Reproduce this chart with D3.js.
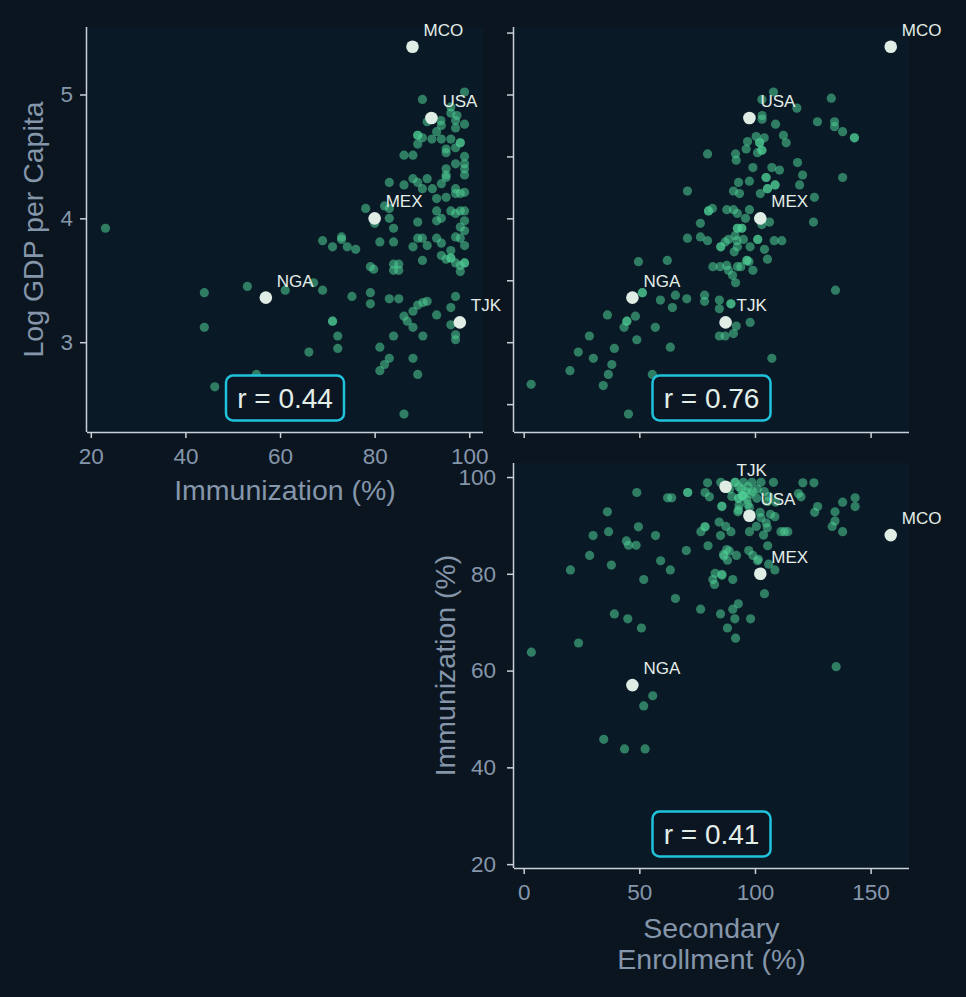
<!DOCTYPE html>
<html>
<head>
<meta charset="utf-8">
<script src="https://cdn.jsdelivr.net/npm/d3@7"></script>
<style>
  html, body { margin: 0; padding: 0; background: #0b151f; }
  svg { display: block; }
</style>
</head>
<body>
<div id="chart"></div>
<script>
// variables
var immLabel = "Immunization (%)";
var gdpLabel = "Log GDP per Capita";
var enrLabel = ["Secondary", "Enrollment (%)"];

// labelled countries [code, immunization, secondary enrollment, log gdp]
var hiCodes = ["MCO", "USA", "MEX", "NGA", "TJK"];
var hiImm = [88, 92, 80, 57, 98];
var hiEnr = [158.7, 97.6, 102.3, 47, 87.3];
var hiGdp = [5.385, 4.81, 4.0, 3.36, 3.16];

// correlation per panel: imm-gdp, enr-gdp, enr-imm
var rValues = [0.44, 0.76, 0.41];

// tick values
var immTicks = [20, 40, 60, 80, 100];
var gdpTicks = [3, 4, 5];
var gdpTicksMinor = [2.5, 3, 3.5, 4, 4.5, 5, 5.5];
var enrTicks = [0, 50, 100, 150];
var immTicksY = [20, 40, 60, 80, 100];

// panel 1: immunization (x) vs log gdp (y)
var immGdp = [
  [23.1,3.92],[44.0,3.40],[44.0,3.12],[53.1,3.45],[61.1,3.42],[67.1,3.48],[46.2,2.64],[55,2.74],[66.1,2.92],
  [69,3.82],[69,3.42],[71.1,3.77],[71.1,3.17],[71.1,3.17],[72.2,3.05],[72.2,2.95],[73,3.85],[73,3.83],
  [74.2,3.77],[76,3.75],[75.2,3.37],[78.1,4.08],[79.1,3.61],[79.8,3.59],[79.1,3.40],[79.1,3.31],[80,3.96],
  [81.1,3.81],[81.1,2.96],[81.1,2.77],[82.1,2.82],[83.1,2.87],[83.1,3.35],[85.1,3.35],[84,3.05],[86.2,2.42],
  [88.1,2.87],[89.1,2.74],[90.2,3.05],[88.1,3.12],[86.2,3.21],[86.9,3.17],[88.1,3.25],[89.1,3.30],[90.2,3.32],
  [91.1,3.33],[93.1,3.22],[96.1,3.28],[97.1,3.37],[96.1,3.14],[97.1,3.06],[97.1,3.02],[84,3.63],[85.1,3.63],
  [84,3.58],[85.1,3.58],[84,3.81],[84,3.92],[83.1,4.00],[83.1,4.08],[82.1,4.10],[83.1,4.29],[86.2,4.27],
  [88.1,4.32],[89.1,4.29],[91.1,4.32],[90.1,4.24],[92.2,4.24],[94.1,4.28],[95.1,4.33],[89.1,3.97],[89.1,3.84],
  [90.1,3.84],[88.1,3.77],[91.1,3.78],[90.1,3.66],[93.1,3.84],[94.1,3.80],[93.1,4.06],[93.1,3.98],[94.1,4.0],
  [93.1,4.16],[95.1,4.17],[96.1,4.06],[97.1,4.24],[97.1,4.04],[98.1,4.06],[99,4.06],[99,3.98],[99,3.90],
  [98.1,3.93],[97.1,3.85],[98.1,3.84],[99,3.78],[94.1,3.70],[95.1,3.67],[96.1,3.74],[96.1,3.68],[96.1,3.68],
  [97.1,3.64],[99,3.64],[99,3.64],[98.1,3.62],[98.1,3.57],[97.1,4.2],[98.1,4.2],[99,4.21],[99,4.35],
  [99,4.40],[99,4.44],[99,4.50],[98.1,4.61],[98.1,4.61],[97.1,4.57],[97.1,4.44],[95.1,4.56],[95.1,4.53],
  [96.1,4.64],[94.1,4.64],[92.1,4.64],[90.1,4.65],[89.1,4.67],[89.1,4.67],[89.1,4.6],[88.1,4.51],[86.2,4.51],
  [97.1,4.73],[97.1,4.79],[99,4.76],[93.1,4.70],[94.1,4.75],[90.1,4.96],[96.1,4.85],[99,5.02],[95.1,4.40],
  [95.1,4.35],[97.4,4.83],[91.1,4.78],[94,4.79],[96.1,4.90]
];

// panel 2: secondary enrollment (x) vs log gdp (y)
var enrGdp = [
  [3.2,2.66],[20.0,2.77],[23.6,2.92],[28.4,3.05],[30.1,2.87],[34.4,2.65],[36.6,2.74],[38.1,2.82],[36.2,3.22],
  [39.2,2.95],[43.4,3.12],[44.6,3.17],[44.6,3.17],[45.3,2.42],[48.3,3.21],[48.9,3.02],[49.6,3.65],[51.3,3.40],
  [51.3,3.40],[55.6,2.74],[56.9,3.12],[59.1,3.34],[62.1,3.66],[63.4,2.96],[64.3,3.28],[65.6,3.38],[70.5,3.35],
  [70.8,4.22],[70.8,3.84],[76.4,3.96],[76.4,3.85],[78.2,3.38],[78.2,3.33],[79.5,4.52],[79.5,3.82],[79.9,4.06],
  [79.9,4.06],[81.6,4.08],[81.8,3.61],[84.6,3.34],[84.6,3.27],[84.6,3.05],[87.1,3.05],[90.7,3.07],[91.9,3.13],
  [89.6,3.31],[89.6,3.31],[84.9,3.61],[87.8,3.62],[88.5,3.58],[90.3,3.54],[91.6,3.48],[92.4,3.61],[93.9,3.61],
  [96.5,3.66],[96.5,3.66],[97.4,3.65],[99.1,3.58],[85.2,3.77],[85.2,3.77],[87.1,3.81],[88.5,3.83],[92.2,3.82],
  [92.4,3.77],[91,3.73],[95,3.83],[97.9,3.77],[101.2,3.83],[101.2,3.83],[104.1,3.75],[105.4,3.67],[108.3,3.82],
  [111.6,3.82],[87.8,4.07],[90.7,4.07],[92.4,4.04],[95.9,4.0],[97.6,4.07],[92.4,3.92],[92.4,3.92],[94.3,3.92],
  [94.3,3.92],[91.4,3.86],[103,3.95],[106.3,3.97],[90.7,4.22],[92.9,4.29],[93.3,4.20],[97.6,4.30],[102.3,4.20],
  [104.8,4.33],[104.8,4.33],[105.4,4.24],[105.4,4.24],[108.7,4.27],[108.7,4.27],[107.3,4.41],[110.6,4.39],
  [99.1,4.41],[118.4,4.45],[120.6,4.35],[119.3,4.27],[125.7,4.17],[125.3,3.97],[137.9,4.33],[134.8,3.42],
  [107.3,2.87],[97.9,3.16],[91.6,4.52],[91.9,4.47],[96.2,4.56],[96.8,4.62],[100.5,4.66],[102,4.61],[102,4.61],
  [103,4.55],[103,4.55],[104,4.65],[101.1,4.53],[103.1,4.83],[103.1,4.80],[108.9,4.76],[112.3,4.67],[113.5,4.61],
  [108,5.02],[118.1,4.89],[127,4.78],[133,4.97],[134.4,4.78],[134.4,4.74],[137.9,4.70],[143,4.65],[143,4.65],
  [103,4.96]
];

// panel 3: secondary enrollment (x) vs immunization (y)
var enrImm = [
  [3.3,63.8],[20.2,80.8],[23.7,65.7],[28.5,83.8],[30.0,87.9],[34.6,45.8],[36.2,92.8],[36.7,88.7],[37.9,81.8],
  [39.2,71.7],[43.6,43.8],[44.4,86.8],[45.3,85.9],[45,70.7],[48.6,85.9],[48.9,96.8],[49.6,89.7],[50.9,68.8],
  [51.9,78.8],[51.9,52.7],[52.5,43.8],[55.8,54.8],[57,87.9],[59.2,82.7],[62.2,95.7],[64,95.7],[63.4,80.8],
  [65.6,74.9],[70.3,84.8],[70.9,96.8],[70.9,96.8],[76.5,72.7],[76.6,88.7],[78.4,89.7],[78.4,89.7],[78.4,96.8],
  [79.5,98.8],[79.7,85.8],[80.3,95.9],[81.8,78.8],[82.5,77.8],[84.5,90.7],[85.1,87.9],[85.1,71.7],[85.7,93.9],
  [85.7,79.7],[86.6,83.7],[87.4,89.8],[88.1,82.8],[88.1,68.8],[88.9,84.7],[89.6,88.7],[90.4,78.8],[90.4,72.7],
  [91.3,70.7],[91.6,66.7],[92,83.8],[92.6,92.8],[92.8,73.8],[93.1,94.1],[94.6,96.2],[94.6,96.2],[96.9,94.4],
  [97.6,88.7],[97.3,84.8],[98.1,70.7],[99.1,83.8],[100.6,89.8],[101.1,82.7],[102.2,92.7],[103.7,88.0],[104.1,75.9],
  [104.9,90.5],[105.3,89.5],[105.5,85.8],[105.9,82.0],[106.7,92.3],[108.6,91.8],[108.6,80.8],[111.2,88.7],
  [112.7,88.7],[114.2,88.7],[109,94.8],[118.8,96.6],[120.7,98.8],[125.5,98.8],[127.1,93.9],[125.8,92.7],
  [133.4,89.8],[134.6,90.9],[134.6,92.8],[137.9,94.8],[137.9,88.7],[143.3,95.7],[143.3,93.9],[135.1,60.8],
  [85.2,98.9],[91.4,98.9],[91.4,98.9],[95.0,98.9],[98.7,98.9],[102.6,98.9],[108,98.9],[85.7,94],[92.9,95.6],
  [92.9,95.6],[96.5,95.3],[100.8,95.6],[105.4,94.9],[92.9,93.2],[97.6,93.7],[102.6,91.6],[87.8,85.0],[86.4,84.0],
  [101.5,83],[82.8,80.1],[85.7,79.9],[119.9,95.9],[93,98],[94,97.5],[96,97],[97,98],[99,97],[101,97.5],
  [104,97],[106,96],[95,96],[98,96.5],[89,97.5],[90,96]
];

var W = 966, H = 997;
var font = "'Liberation Sans', Arial, Helvetica, sans-serif";
var tickColor = "#c9d0d9", labelColor = "#8596ab";

var svg = d3.select("#chart").append("svg")
    .attr("width", W)
    .attr("height", H)
    .style("background", "#0b151f");

var immDomain = [19.2, 102.9];
var gdpDomain = [2.275, 5.545];
var enrDomain = [-4.2, 166.6];

var panels = [
    {x0: 87, y0: 27, w: 396, h: 405, data: immGdp, hx: hiImm, hy: hiGdp,
     xd: immDomain, yd: gdpDomain, xt: immTicks, yt: gdpTicks, xLab: true, yLab: true,
     xTitle: [immLabel], yTitle: gdpLabel, r: rValues[0], ypad: 7},
    {x0: 514, y0: 27, w: 395, h: 405, data: enrGdp, hx: hiEnr, hy: hiGdp,
     xd: enrDomain, yd: gdpDomain, xt: enrTicks, yt: gdpTicksMinor, xLab: false, yLab: false,
     xTitle: null, yTitle: null, r: rValues[1], ypad: 7},
    {x0: 514, y0: 463, w: 395, h: 405, data: enrImm, hx: hiEnr, hy: hiImm,
     xd: enrDomain, yd: immDomain, xt: enrTicks, yt: immTicksY, xLab: true, yLab: true,
     xTitle: enrLabel, yTitle: immLabel, r: rValues[2], ypad: 11}
];

panels.forEach(function(p) {
    var g = svg.append("g")
        .attr("transform", "translate(" + p.x0 + "," + p.y0 + ")");

    var x = d3.scaleLinear().domain(p.xd).range([0, p.w]);
    var y = d3.scaleLinear().domain(p.yd).range([p.h, 0]);

    g.append("rect")
        .attr("width", p.w)
        .attr("height", p.h)
        .attr("fill", "#0a1926");

    // dots
    g.selectAll("circle.dot")
        .data(p.data)
        .enter()
        .append("circle")
            .attr("class", "dot")
            .attr("cx", function(d) { return x(d[0]); })
            .attr("cy", function(d) { return y(d[1]); })
            .attr("r", 4.6)
            .style("fill", "#4fcf95")
            .style("fill-opacity", 0.55);

    // highlighted countries
    var hi = hiCodes.map(function(c, i) { return {code: c, x: p.hx[i], y: p.hy[i]}; });
    g.selectAll("circle.hi")
        .data(hi)
        .enter()
        .append("circle")
            .attr("class", "hi")
            .attr("cx", function(d) { return x(d.x); })
            .attr("cy", function(d) { return y(d.y); })
            .attr("r", 6.3)
            .style("fill", "#dfede5");
    g.selectAll("text.hi")
        .data(hi)
        .enter()
        .append("text")
            .attr("class", "hi")
            .attr("x", function(d) { return x(d.x) + 11; })
            .attr("y", function(d) { return y(d.y) - 11; })
            .style("font-family", font)
            .style("font-size", "17px")
            .style("fill", "#e4eee8")
            .text(function(d) { return d.code; });

    // axes
    var xAxis = g.append("g")
        .attr("transform", "translate(0," + p.h + ")")
        .call(d3.axisBottom(x).tickValues(p.xt).tickSize(6).tickPadding(10)
            .tickFormat(p.xLab ? d3.format("d") : ""));
    var yAxis = g.append("g")
        .call(d3.axisLeft(y).tickValues(p.yt).tickSize(7).tickPadding(p.ypad)
            .tickFormat(p.yLab ? d3.format("d") : ""));
    [xAxis, yAxis].forEach(function(a) {
        a.select(".domain").attr("stroke", tickColor).attr("stroke-width", 1.5);
        a.selectAll(".tick line").attr("stroke", tickColor).attr("stroke-width", 1.5);
        a.selectAll(".tick text")
            .style("font-family", font)
            .style("font-size", "22.5px")
            .attr("fill", labelColor);
    });
    // spines should span the whole panel (no outer tick stubs)
    xAxis.select(".domain").attr("d", "M0,0.5H" + p.w);
    yAxis.select(".domain").attr("d", "M-0.5,0V" + p.h);

    if (p.xTitle) {
        p.xTitle.forEach(function(t, i) {
            g.append("text")
                .attr("x", p.w / 2)
                .attr("y", p.h + 68 + i * 31 + (p.xTitle.length > 1 ? 2 : 0))
                .attr("text-anchor", "middle")
                .style("font-family", font)
                .style("font-size", "28.5px")
                .style("fill", labelColor)
                .text(t);
        });
    }
    if (p.yTitle) {
        g.append("text")
            .attr("transform", "translate(" + (p.yLab && p.x0 > 300 ? -59 : -44) + "," + (p.h / 2) + ") rotate(-90)")
            .attr("text-anchor", "middle")
            .style("font-family", font)
            .style("font-size", "28.5px")
            .style("fill", labelColor)
            .text(p.yTitle);
    }

    // correlation box
    var box = g.append("g")
        .attr("transform", "translate(" + (p.w / 2) + "," + (p.h - 34) + ")");
    box.append("rect")
        .attr("x", -59)
        .attr("y", -22.5)
        .attr("width", 118)
        .attr("height", 45)
        .attr("rx", 7)
        .attr("fill", "#0b1622")
        .attr("stroke", "#1fc3db")
        .attr("stroke-width", 2.5);
    box.append("text")
        .attr("y", 10)
        .attr("text-anchor", "middle")
        .style("font-family", font)
        .style("font-size", "28px")
        .style("fill", "#e4eee8")
        .text("r = " + p.r.toFixed(2));
});
</script>
</body>
</html>
